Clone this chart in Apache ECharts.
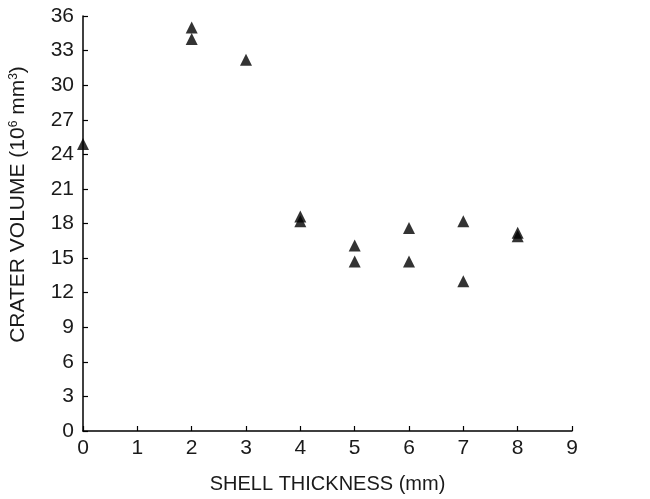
<!DOCTYPE html>
<html>
<head>
<meta charset="utf-8">
<script src="https://cdn.jsdelivr.net/npm/echarts@6/dist/echarts.min.js"></script>
<style>
  html, body { margin: 0; padding: 0; background: #fff; }
  #main { width: 650px; height: 499px; }
</style>
</head>
<body>
<div id="main"></div>
<script>
// shell thickness (mm) and crater volume (10^6 mm^3)
const thickness = [0, 2, 2, 3, 4, 4, 5, 5, 6, 6, 7, 7, 8, 8];
const volume = [24.9, 35.0, 34.0, 32.2, 18.6, 18.2, 16.1, 14.7, 17.6, 14.7, 18.2, 13.0, 17.2, 16.9];

const xTicks = [0, 1, 2, 3, 4, 5, 6, 7, 8, 9];
const yTicks = [0, 3, 6, 9, 12, 15, 18, 21, 24, 27, 30, 33, 36];

const points = thickness.map((t, i) => [t, volume[i]]);

const font = 'Liberation Sans, Arial, sans-serif';
const axisLine = { show: true, lineStyle: { color: '#000', width: 1.5 } };

const option = {
  backgroundColor: '#fff',
  animation: false,
  grid: { left: 82, right: 78, top: 16, bottom: 67 },
  xAxis: {
    type: 'value',
    min: xTicks[0],
    max: xTicks[xTicks.length - 1],
    interval: 1,
    name: 'SHELL THICKNESS (mm)',
    nameLocation: 'middle',
    nameGap: 43,
    nameTextStyle: { fontFamily: font, fontSize: 20, color: '#1a1a1a' },
    axisLine: axisLine,
    axisTick: { inside: true, length: 5, lineStyle: { color: '#000', width: 1.2 } },
    axisLabel: { fontFamily: font, fontSize: 21, color: '#1a1a1a', margin: 7 },
    splitLine: { show: false }
  },
  yAxis: {
    type: 'value',
    min: yTicks[0],
    max: yTicks[yTicks.length - 1],
    interval: 3,
    name: 'CRATER VOLUME (10{sup|6} mm{sup|3})',
    nameLocation: 'middle',
    nameGap: 54,
    nameRotate: 90,
    nameTextStyle: {
      fontFamily: font, fontSize: 21, color: '#1a1a1a',
      padding: [0, 0, 0, 38],
      rich: { sup: { fontFamily: font, fontSize: 12, color: '#1a1a1a', verticalAlign: 'top', lineHeight: 12 } }
    },
    axisLine: axisLine,
    axisTick: { inside: true, length: 5, lineStyle: { color: '#000', width: 1.2 } },
    axisLabel: { fontFamily: font, fontSize: 21, color: '#1a1a1a', margin: 9 },
    splitLine: { show: false }
  },
  series: [{
    type: 'scatter',
    data: points,
    symbol: 'triangle',
    symbolSize: 12,
    itemStyle: { color: '#000' }
  }]
};

const myChart = echarts.init(document.getElementById('main'));
myChart.setOption(option);
</script>
</body>
</html>
